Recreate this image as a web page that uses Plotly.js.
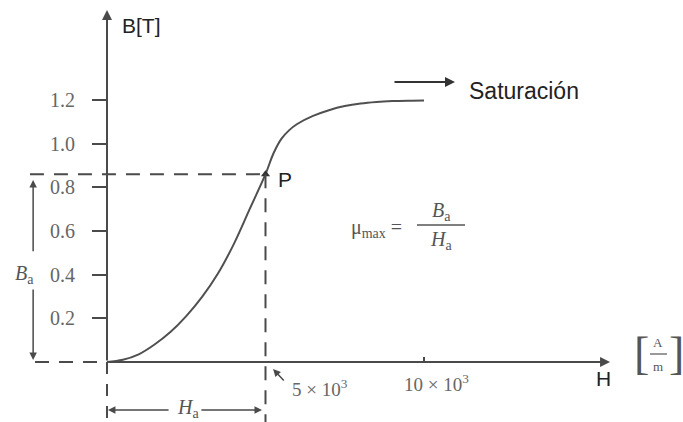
<!DOCTYPE html>
<html>
<head>
<meta charset="utf-8">
<script src="https://cdn.plot.ly/plotly-3.0.1.min.js"></script>
<style>html,body{margin:0;padding:0;background:#fff;}#chart{width:683px;height:422px;}</style>
</head>
<body>
<div id="chart"></div>
<script>
// Magnetisation curve B(H), H in units of 10^3 A/m, B in T
var H = [0, 0.5, 1, 1.5, 2, 2.5, 3, 3.5, 4, 4.5, 5, 5.25, 5.5, 5.75, 6, 6.5, 7, 7.5, 8, 8.5, 9, 9.5, 10];
var B = [0, 0.01, 0.035, 0.08, 0.137, 0.21, 0.298, 0.405, 0.54, 0.70, 0.86, 0.955, 1.022, 1.062, 1.09, 1.127, 1.153, 1.172, 1.184, 1.191, 1.195, 1.197, 1.198];
var yTickVals = [0.2, 0.4, 0.6, 0.8, 1.0, 1.2];
var yTickText = ['0.2', '0.4', '0.6', '0.8', '1.0', '1.2'];
var xTickVals = [10];
var Ha = 5;      // point P
var Ba = 0.86;

var W = 683, Hpx = 422;
var xRange = [-3.375, 18.17];
var yRange = [-0.275, 1.658];
function px(x){ return x / W; }
function py(y){ return 1 - y / Hpx; }

var lineCol = '#4a4a4a';
var textCol = '#666';
var serif = 'Liberation Serif, Times New Roman, serif';
var sans = 'Liberation Sans, Arial, sans-serif';

var traces = [
  {x: H, y: B, type: 'scatter', mode: 'lines', line: {color: '#505050', width: 2, shape: 'spline', smoothing: 1}, hoverinfo: 'skip'},
  {x: [Ha], y: [Ba], type: 'scatter', mode: 'markers', marker: {symbol: 'triangle-up', size: 8, color: '#333'}, hoverinfo: 'skip'}
];

var dash = '14px,10px';
var shapes = [
  {type: 'line', xref: 'x', yref: 'y', x0: -2.43, x1: Ha, y0: Ba, y1: Ba, line: {color: lineCol, width: 2, dash: dash}},
  {type: 'line', xref: 'x', yref: 'y', x0: Ha, x1: Ha, y0: Ba, y1: yRange[0], line: {color: lineCol, width: 2, dash: dash}},
  {type: 'line', xref: 'x', yref: 'y', x0: -2.27, x1: 0, y0: 0, y1: 0, line: {color: lineCol, width: 2, dash: dash}},
  {type: 'line', xref: 'x', yref: 'y', x0: 0, x1: 0, y0: 0, y1: yRange[0], line: {color: lineCol, width: 2, dash: '12px,10px'}},
  // fraction bars
  {type: 'line', xref: 'paper', yref: 'paper', x0: px(417), x1: px(465), y0: py(225), y1: py(225), line: {color: '#555', width: 1.5}},
  {type: 'line', xref: 'paper', yref: 'paper', x0: px(650), x1: px(667), y0: py(354), y1: py(354), line: {color: '#555', width: 1.2}}
];

function arrowData(x0, y0, x1, y1, w, size){
  return {x: x1, y: y1, ax: x0, ay: y0, xref: 'x', yref: 'y', axref: 'x', ayref: 'y', text: '', showarrow: true,
          arrowhead: 2, arrowsize: size || 1, arrowwidth: w || 2, arrowcolor: lineCol, standoff: 0, startstandoff: 0};
}
function label(xp, yp, text, size, font, color, extra){
  var a = {xref: 'paper', yref: 'paper', x: px(xp), y: py(yp), text: text, showarrow: false,
           font: {family: font, size: size, color: color}, xanchor: 'center', yanchor: 'middle'};
  if (extra) for (var k in extra) a[k] = extra[k];
  return a;
}

var annotations = [
  // axes with arrow heads
  arrowData(0, 0, 0, 1.612, 2, 1),
  arrowData(0, 0, 15.87, 0, 2, 1),
  // B_a double arrow
  arrowData(-2.33, 0.50, -2.33, 0.834, 1.5, 1),
  arrowData(-2.33, 0.339, -2.33, 0.009, 1.5, 1),
  // H_a double arrow
  arrowData(1.99, -0.22, 0.03, -0.22, 1.5, 1),
  arrowData(2.93, -0.22, 4.89, -0.22, 1.5, 1),
  // arrow pointing to 5x10^3
  arrowData(5.62, -0.092, 5.24, -0.032, 1.5, 1),
  // Saturación arrow
  {xref: 'paper', yref: 'paper', x: px(455), y: py(82), ax: -62, ay: 0, text: '', showarrow: true,
   arrowhead: 2, arrowsize: 1, arrowwidth: 2, arrowcolor: '#333', standoff: 0},
  label(524, 91, 'Saturación', 23, sans, '#222'),
  label(141, 25, 'B[T]', 21, sans, '#222'),
  label(603, 378, 'H', 21, sans, '#222'),
  label(285, 179, 'P', 21, sans, '#222'),
  label(24, 274, '<i>B</i><sub>a</sub>', 20, serif, '#555'),
  label(188, 408, '<i>H</i><sub>a</sub>', 20, serif, '#555'),
  label(320, 388, '5 × 10<sup>3</sup>', 19, serif, textCol),
  label(436, 383, '10 × 10<sup>3</sup>', 19, serif, textCol),
  label(376, 228, 'μ<sub>max</sub> =', 20, serif, '#555'),
  label(441, 211, '<i>B</i><sub>a</sub>', 20, serif, '#555'),
  label(441, 240, '<i>H</i><sub>a</sub>', 20, serif, '#555'),
  label(641, 353, '[', 46, serif, '#555'),
  label(676, 353, ']', 46, serif, '#555'),
  label(658, 342, 'A', 13, serif, '#555'),
  label(658, 366, 'm', 13, serif, '#555')
];

var layout = {
  width: W, height: Hpx,
  margin: {l: 0, r: 0, t: 0, b: 0, pad: 0},
  paper_bgcolor: '#fff', plot_bgcolor: '#fff',
  showlegend: false,
  xaxis: {range: xRange, anchor: 'free', position: py(362), showgrid: false, zeroline: false, showline: false,
          tickvals: xTickVals, ticks: 'inside', ticklen: 5, tickwidth: 2, tickcolor: lineCol, showticklabels: false,
          fixedrange: true, automargin: false},
  yaxis: {range: yRange, anchor: 'free', position: px(107), showgrid: false, zeroline: false, showline: false,
          tickvals: yTickVals, ticktext: yTickText, ticks: 'outside', ticklen: 15, tickwidth: 2, tickcolor: lineCol,
          ticklabelstandoff: 13, tickfont: {family: serif, size: 20, color: textCol}, fixedrange: true, automargin: false},
  shapes: shapes,
  annotations: annotations
};

Plotly.newPlot('chart', traces, layout, {staticPlot: true, displayModeBar: false});
</script>
</body>
</html>
